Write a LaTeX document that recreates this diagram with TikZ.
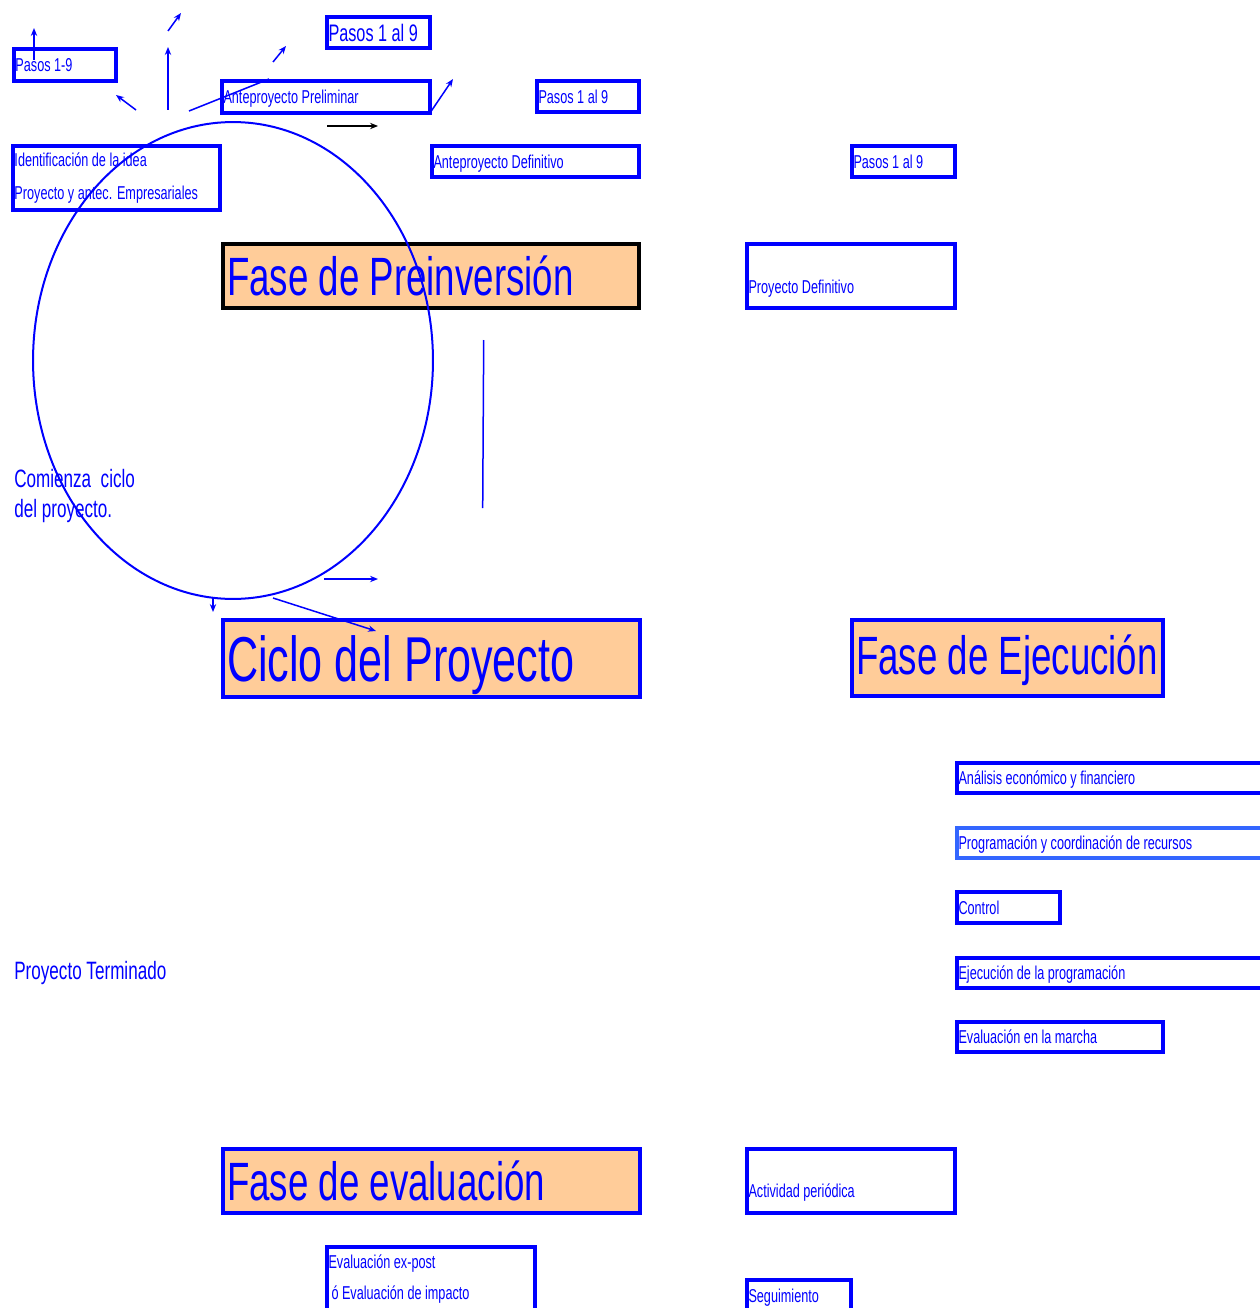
\documentclass[tikz,border=0pt]{standalone}
\usepackage{fontspec}
\setmainfont{Liberation Sans}[FakeStretch=0.68]
\usetikzlibrary{arrows.meta}
\hyphenpenalty=10000
\exhyphenpenalty=10000

\definecolor{durazno}{HTML}{FFCC99}
\definecolor{azulclaro}{HTML}{3366FF}

\tikzset{
	caja/.style={draw=blue, line width=0.08cm, outer sep=0pt, inner xsep=0.03cm, inner ysep=0pt,
		anchor=north west, align=left, text=blue, font=\fontsize{10.6}{12.7}\selectfont,
		execute at begin node={\spaceskip=0pt\xspaceskip=0pt}},
	cajauna/.style={caja, text height=7.6pt, text depth=0pt},
	fase/.style={caja, fill=durazno, inner xsep=0.08cm, text height=22pt, text depth=0pt,
		font=\fontsize{30.7}{36}\selectfont},
	texto/.style={inner sep=0pt, anchor=west, align=left, text=blue, font=\fontsize{14.3}{17}\selectfont},
	flecha/.style={draw=blue, line width=0.03cm, -{Stealth[length=4.5pt,width=3.6pt]}},
}

\begin{document}
\begin{tikzpicture}[x=0.02cm, y=-0.02cm]
	\useasboundingbox (0,0) rectangle (1259,1308);

	% fase de preinversion
	\node[cajauna, minimum height=0.64cm, text width=1.98cm] (pasos19) at (14,49) {Pasos 1-9};
	\node[cajauna, minimum height=0.62cm, text width=2.00cm, text height=9.7pt,
		font=\fontsize{13.6}{16}\selectfont] (pasosa) at (327,17) {Pasos 1 al 9};
	\node[cajauna, minimum height=0.64cm, text width=4.10cm] (antepre) at (222,81) {Anteproyecto Preliminar};
	\node[cajauna, minimum height=0.62cm, text width=1.98cm] (pasosb) at (537,81) {Pasos 1 al 9};
	\node[caja, minimum height=1.28cm, text width=4.08cm] (idea) at (13,146)
		{Identificación de la idea\\[6pt]Proyecto y antec. Empresariales};
	\node[cajauna, minimum height=0.62cm, text width=4.08cm] (antedef) at (432,146) {Anteproyecto Definitivo};
	\node[cajauna, minimum height=0.62cm, text width=2.00cm] (pasosc) at (852,146) {Pasos 1 al 9};
	\node[fase, draw=black, minimum height=1.28cm, text width=8.16cm] (preinv) at (223,244) {Fase de Preinversión};
	\node[caja, minimum height=1.28cm, text width=4.10cm, text height=20pt, text depth=0pt] (proydef) at (747,244) {Proyecto Definitivo};

	% ciclo y ejecucion
	\node[fase, minimum height=1.54cm, text width=8.18cm, text height=25.8pt,
		font=\fontsize{36.1}{42}\selectfont] (ciclo) at (223,620) {Ciclo del Proyecto};
	\node[fase, minimum height=1.52cm, text width=6.06cm, text height=18.8pt] (ejec) at (852,620) {Fase de Ejecución};
	\node[cajauna, minimum height=0.60cm, text width=6.30cm] (analisis) at (957,763) {Análisis económico y financiero};
	\node[cajauna, draw=azulclaro, minimum height=0.60cm, text width=6.30cm] (program) at (957,828) {Programación y coordinación de recursos};
	\node[cajauna, minimum height=0.62cm, text width=2.00cm] (control) at (957,892) {Control};
	\node[cajauna, minimum height=0.60cm, text width=6.30cm] (ejecprog) at (957,958) {Ejecución de la programación};
	\node[cajauna, minimum height=0.60cm, text width=4.06cm] (marcha) at (957,1022) {Evaluación en la marcha};

	% evaluacion
	\node[fase, minimum height=1.28cm, text width=8.18cm] (evalfase) at (223,1149) {Fase de evaluación};
	\node[caja, minimum height=1.28cm, text width=4.10cm, text height=19pt, text depth=0pt] (activ) at (747,1149) {Actividad periódica};
	\node[caja, minimum height=1.28cm, text width=4.10cm] (expost) at (327,1247)
		{Evaluación ex-post\\[5.4pt]\hspace*{0.06cm}ó Evaluación de impacto};
	\node[cajauna, minimum height=0.64cm, text width=2.02cm] (seguim) at (747,1280) {Seguimiento};

	\node[texto] (comienza) at (14,496) {Comienza\ \ ciclo\\del proyecto.};
	\node[texto] (terminado) at (14,973) {Proyecto Terminado};

	% circulo del ciclo
	\draw[blue, line width=0.04cm] (233,360.5) ellipse [x radius=4cm, y radius=4.77cm];
	\draw[blue, line width=0.03cm] (483.7,340) -- (482.7,508);

	% flechas
	\coordinate (a1) at (34,60);   \coordinate (b1) at (34,28);
	\coordinate (a2) at (136,110); \coordinate (b2) at (116,95);
	\coordinate (a3) at (168,110); \coordinate (b3) at (168,47);
	\coordinate (a4) at (168,31);  \coordinate (b4) at (181,13);
	\coordinate (a5) at (189,111); \coordinate (b5) at (269,79);
	\coordinate (a6) at (273,62);  \coordinate (b6) at (286,46);
	\coordinate (b7) at (453,79);
	\coordinate (a8) at (327,126); \coordinate (b8) at (378,126);
	\coordinate (a9) at (324,579); \coordinate (b9) at (378,579);
	\coordinate (a10) at (213,598); \coordinate (b10) at (213,612);
	\coordinate (a11) at (273,598); \coordinate (b11) at (376,631);

	\draw[flecha] (a1) -- (b1);
	\draw[flecha] (a2) -- (b2);
	\draw[flecha] (a3) -- (b3);
	\draw[flecha] (a4) -- (b4);
	\draw[blue, line width=0.03cm] (a5) -- (b5);
	\draw[flecha] (a6) -- (b6);
	\draw[flecha] (antepre.south east) -- (b7);
	\draw[flecha, draw=black] (a8) -- (b8);
	\draw[flecha] (a9) -- (b9);
	\draw[flecha] (a10) -- (b10);
	\draw[flecha] (a11) -- (b11);
\end{tikzpicture}
\end{document}
